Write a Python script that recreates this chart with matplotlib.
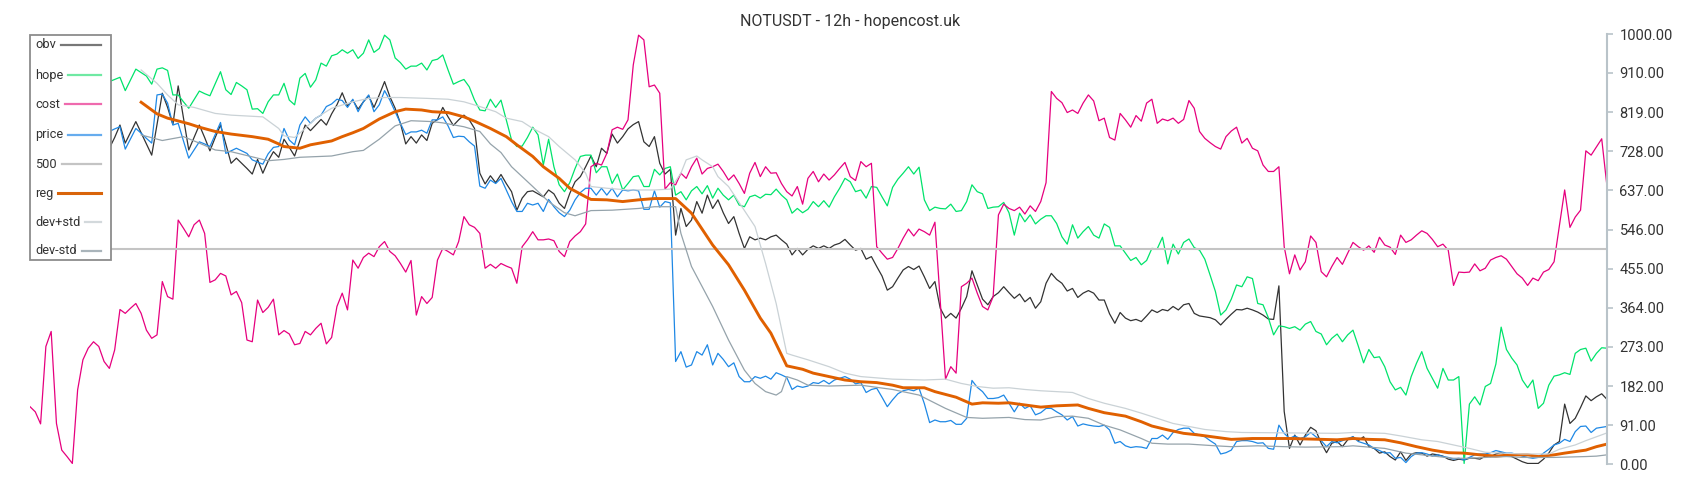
import matplotlib
matplotlib.use('Agg')
import matplotlib.pyplot as plt
import numpy as np
from matplotlib.patches import Rectangle
from matplotlib.lines import Line2D

plt.rcParams['font.family'] = ['Roboto', 'DejaVu Sans']

title = 'NOTUSDT - 12h - hopencost.uk'

# cost, one value per 12h candle (299 candles, scaled 0..1000)
cost = [134, 122, 94, 274, 309, 95, 33, 18, 2, 173,
        243, 270, 285, 274, 239, 223, 266, 360, 351, 363,
        374, 351, 312, 293, 301, 425, 390, 384, 568, 549,
        529, 557, 568, 537, 423, 429, 444, 438, 394, 402,
        376, 289, 285, 382, 353, 365, 384, 301, 311, 303,
        278, 281, 309, 301, 316, 328, 280, 295, 367, 398,
        359, 475, 456, 481, 491, 483, 506, 518, 495, 485,
        467, 447, 474, 347, 390, 374, 388, 475, 502, 495,
        487, 518, 576, 557, 551, 537, 456, 465, 456, 467,
        461, 456, 421, 506, 522, 541, 522, 522, 524, 520,
        495, 483, 518, 531, 541, 559, 692, 700, 696, 723,
        778, 784, 779, 801, 929, 998, 987, 878, 882, 863,
        640, 655, 650, 677, 665, 692, 712, 675, 688, 692,
        698, 681, 661, 673, 653, 630, 677, 702, 669, 692,
        677, 678, 653, 634, 624, 646, 605, 665, 681, 657,
        675, 661, 673, 688, 702, 669, 660, 704, 692, 700,
        506, 491, 477, 481, 502, 526, 547, 531, 547, 541,
        533, 563, 380, 198, 227, 212, 413, 421, 433, 398,
        367, 359, 390, 580, 605, 595, 590, 598, 582, 601,
        588, 611, 655, 867, 851, 841, 818, 824, 816, 840,
        859, 845, 799, 805, 760, 754, 816, 801, 784, 811,
        798, 840, 849, 793, 803, 799, 805, 793, 802, 846,
        828, 774, 758, 748, 739, 733, 762, 775, 784, 747,
        758, 735, 729, 696, 681, 681, 692, 506, 443, 487,
        452, 471, 531, 516, 448, 436, 460, 481, 465, 491,
        516, 506, 498, 508, 493, 528, 510, 505, 488, 533,
        516, 522, 533, 543, 537, 523, 506, 512, 498, 416,
        447, 446, 447, 466, 450, 456, 475, 481, 485, 477,
        460, 443, 433, 416, 433, 427, 447, 453, 471, 555,
        638, 551, 575, 591, 729, 719, 738, 757, 646]

# obv, hope and price from candle 15 on (the start sits under the legend)
start = 15
obv = [735, 760, 789, 747, 772, 797, 771, 745, 719, 790,
       863, 830, 790, 880, 805, 731, 760, 789, 760, 729,
       760, 789, 745, 700, 712, 700, 688, 675, 709, 677,
       705, 727, 714, 756, 737, 717, 753, 789, 776, 789,
       802, 789, 815, 836, 864, 833, 847, 826, 843, 857,
       830, 859, 890, 855, 828, 793, 745, 762, 747, 766,
       753, 793, 802, 830, 808, 788, 801, 812, 801, 781,
       677, 652, 671, 655, 674, 653, 634, 591, 619, 634,
       636, 629, 622, 638, 629, 607, 595, 630, 657, 669,
       692, 717, 692, 735, 723, 768, 747, 762, 780, 790,
       797, 750, 739, 762, 700, 675, 686, 533, 595, 553,
       568, 611, 584, 626, 595, 615, 585, 560, 576, 537,
       502, 529, 522, 526, 522, 529, 533, 522, 512, 487,
       502, 487, 500, 508, 502, 508, 502, 510, 514, 523,
       510, 498, 502, 477, 483, 460, 438, 405, 413, 433,
       452, 460, 453, 461, 436, 409, 425, 363, 340, 351,
       340, 363, 390, 450, 417, 384, 371, 390, 399, 413,
       399, 386, 396, 378, 388, 363, 378, 421, 444, 430,
       421, 403, 409, 388, 398, 404, 398, 382, 382, 350,
       328, 353, 340, 334, 337, 332, 345, 359, 353, 360,
       357, 367, 359, 371, 374, 351, 345, 343, 341, 336,
       324, 337, 349, 360, 359, 363, 359, 354, 347, 338,
       337, 415, 123, 37, 68, 45, 68, 86, 78, 49,
       27, 49, 53, 41, 57, 64, 55, 64, 41, 37,
       26, 29, 18, 10, 29, 9, 24, 27, 26, 19,
       24, 22, 19, 12, 9, 12, 10, 14, 14, 12,
       19, 18, 24, 27, 22, 18, 12, 6, 2, 2,
       2, 12, 26, 45, 53, 140, 95, 107, 132, 159,
       148, 157, 164, 151]

hope = [890, 895, 900, 869, 894, 919, 911, 903, 884, 919,
        922, 916, 859, 859, 843, 828, 848, 868, 862, 857,
        885, 913, 871, 860, 888, 880, 871, 826, 827, 816,
        843, 859, 859, 886, 847, 836, 898, 909, 877, 894,
        933, 926, 950, 954, 964, 956, 964, 944, 956, 987,
        958, 967, 998, 987, 945, 934, 919, 926, 926, 933,
        917, 939, 942, 952, 917, 884, 890, 895, 878, 847,
        824, 822, 849, 830, 847, 801, 754, 739, 740, 760,
        784, 766, 696, 756, 692, 650, 634, 655, 688, 716,
        719, 719, 678, 692, 692, 653, 675, 638, 653, 669,
        671, 646, 646, 686, 673, 688, 692, 626, 634, 615,
        636, 646, 629, 648, 619, 642, 626, 615, 626, 603,
        599, 622, 626, 619, 628, 627, 640, 626, 615, 584,
        595, 585, 593, 611, 599, 613, 598, 622, 642, 665,
        657, 634, 638, 619, 646, 644, 622, 601, 644, 663,
        677, 692, 675, 691, 615, 590, 598, 595, 594, 605,
        588, 590, 611, 650, 634, 629, 595, 598, 599, 609,
        585, 533, 584, 564, 580, 559, 570, 578, 578, 560,
        529, 512, 557, 526, 541, 553, 533, 526, 559, 551,
        508, 508, 491, 474, 481, 464, 474, 502, 501, 528,
        466, 512, 489, 516, 524, 504, 498, 477, 440, 402,
        347, 359, 384, 417, 413, 436, 432, 374, 371, 341,
        301, 322, 320, 316, 320, 312, 326, 332, 309, 303,
        278, 293, 303, 285, 301, 312, 275, 236, 267, 248,
        250, 227, 192, 173, 179, 161, 204, 235, 262, 223,
        200, 177, 223, 196, 196, 204, 2, 140, 157, 138,
        181, 188, 233, 319, 267, 247, 231, 196, 178, 196,
        130, 142, 184, 205, 208, 213, 209, 258, 267, 270,
        240, 258, 271, 270]

price = [774, 780, 785, 733, 757, 781, 770, 758, 747, 859,
         861, 840, 789, 793, 752, 712, 731, 750, 745, 739,
         767, 795, 723, 729, 735, 729, 723, 708, 703, 698,
         722, 737, 739, 781, 754, 743, 789, 808, 793, 805,
         812, 832, 838, 849, 846, 830, 849, 820, 843, 859,
         820, 836, 869, 847, 820, 793, 767, 773, 773, 777,
         770, 801, 801, 808, 787, 760, 763, 762, 750, 740,
         647, 642, 661, 653, 665, 638, 611, 588, 588, 607,
         603, 607, 588, 616, 599, 585, 576, 591, 615, 632,
         642, 642, 626, 642, 626, 642, 622, 638, 636, 638,
         636, 593, 593, 636, 598, 611, 608, 239, 262, 226,
         231, 262, 254, 278, 231, 258, 244, 227, 236, 204,
         192, 192, 204, 200, 205, 198, 213, 208, 202, 174,
         182, 179, 182, 190, 188, 195, 187, 196, 200, 204,
         198, 187, 190, 167, 174, 177, 156, 134, 150, 164,
         171, 174, 171, 177, 141, 97, 103, 99, 99, 102,
         93, 93, 107, 195, 179, 169, 153, 153, 155, 161,
         142, 122, 142, 130, 136, 115, 120, 130, 130, 122,
         115, 103, 111, 89, 94, 91, 89, 88, 91, 80,
         49, 53, 43, 39, 41, 40, 37, 60, 60, 68,
         58, 74, 81, 84, 84, 72, 68, 64, 55, 47,
         24, 27, 33, 53, 55, 55, 53, 49, 50, 37,
         35, 91, 72, 60, 66, 60, 64, 74, 64, 55,
         41, 53, 50, 55, 60, 64, 53, 49, 45, 37,
         32, 26, 27, 14, 16, 4, 18, 26, 27, 24,
         19, 22, 18, 16, 12, 14, 10, 16, 22, 24,
         24, 27, 32, 29, 26, 26, 23, 19, 16, 14,
         16, 26, 35, 45, 49, 58, 53, 76, 88, 89,
         74, 84, 86, 88]

threshold = 500

# smooth lines, read at fewer candles
reg_x = [21, 24, 26, 30, 32, 35, 38, 42, 45, 47,
         48, 51, 53, 57, 59, 61, 63, 66, 69, 71,
         74, 76, 79, 82, 84, 87, 90, 92, 95, 97,
         100, 102, 105, 106, 109, 112, 115, 118, 122, 125,
         129, 132, 135, 138, 140, 143, 146, 148, 151, 154,
         157, 160, 163, 165, 169, 171, 175, 178, 180, 183,
         185, 188, 191, 194, 198, 200, 203, 207, 210, 212,
         215, 218, 221, 224, 227, 231, 235, 238, 244, 247,
         250, 253, 256, 259, 262, 265, 268, 271, 274, 277,
         280, 283, 285, 288, 290, 294, 296, 298]
reg = [842, 815, 805, 792, 784, 774, 768, 762, 756, 745,
       739, 735, 743, 752, 762, 771, 781, 803, 820, 826,
       824, 820, 818, 808, 798, 781, 762, 743, 716, 692,
       665, 642, 622, 616, 615, 611, 615, 618, 618, 584,
       510, 464, 405, 340, 305, 229, 221, 212, 204, 196,
       192, 190, 184, 178, 178, 169, 156, 140, 143, 142,
       143, 138, 133, 136, 138, 130, 120, 112, 99, 89,
       80, 72, 68, 63, 58, 60, 60, 60, 58, 57,
       60, 58, 57, 50, 41, 33, 27, 26, 22, 19,
       22, 22, 18, 22, 26, 33, 41, 47]

dev_hi_x = [21, 24, 26, 28, 31, 35, 38, 44, 47, 48,
            50, 52, 54, 57, 61, 64, 67, 70, 75, 79,
            82, 85, 88, 90, 93, 95, 98, 100, 103, 105,
            106, 109, 113, 118, 121, 123, 124, 126, 127, 129,
            130, 132, 137, 139, 141, 143, 144, 147, 151, 154,
            157, 163, 169, 173, 176, 179, 182, 185, 188, 191,
            194, 197, 200, 203, 207, 210, 213, 216, 219, 222,
            226, 229, 238, 247, 250, 256, 259, 263, 266, 269,
            272, 275, 278, 282, 285, 287, 289, 292, 294, 296,
            298]
dev_hi = [917, 886, 859, 836, 830, 816, 812, 808, 781, 764,
          760, 781, 805, 828, 843, 851, 853, 853, 851, 849,
          843, 832, 820, 805, 797, 781, 762, 739, 708, 677,
          646, 642, 638, 638, 640, 677, 708, 717, 708, 692,
          669, 646, 553, 467, 374, 258, 254, 243, 227, 212,
          204, 198, 196, 198, 188, 181, 177, 178, 174, 171,
          169, 167, 153, 142, 130, 119, 107, 95, 88, 81,
          76, 74, 73, 72, 74, 72, 66, 57, 53, 45,
          37, 28, 26, 24, 24, 24, 35, 45, 55, 64,
          73]

dev_lo_x = [21, 25, 29, 32, 35, 38, 42, 45, 48, 51,
            57, 61, 63, 66, 69, 72, 76, 78, 82, 85,
            87, 89, 91, 95, 98, 101, 103, 106, 110, 115,
            118, 122, 123, 125, 129, 132, 135, 137, 139, 141,
            142, 143, 145, 147, 151, 157, 163, 168, 173, 177,
            180, 185, 188, 191, 194, 197, 200, 203, 206, 210,
            212, 215, 219, 224, 227, 232, 237, 241, 248, 250,
            256, 260, 263, 266, 269, 272, 275, 279, 282, 285,
            288, 294, 296, 298]
dev_lo = [766, 753, 762, 747, 731, 727, 715, 706, 709, 714,
          717, 727, 730, 756, 787, 799, 797, 794, 785, 774,
          745, 725, 692, 646, 611, 585, 578, 590, 591, 595,
          599, 599, 537, 460, 367, 289, 219, 188, 169, 161,
          169, 204, 196, 184, 182, 184, 174, 161, 130, 109,
          107, 109, 104, 103, 111, 112, 107, 91, 80, 60,
          49, 47, 47, 43, 41, 43, 41, 40, 41, 43,
          37, 26, 22, 18, 14, 14, 16, 18, 16, 16,
          16, 18, 19, 22]

tick_values = [0, 91, 182, 273, 364, 455, 546, 637, 728, 819, 910, 1000]

W, H = 1700, 500
fig = plt.figure(figsize=(W / 100, H / 100), dpi=100)
ax = fig.add_axes([30 / W, 1 - 464.3 / H, (1607 - 30) / W, (464.3 - 34.3) / H])

candles = np.arange(len(cost))
later = np.arange(start, start + len(obv))

ax.plot(later, obv, color='#333333', lw=0.9)
ax.plot(later, hope, color='#00e36b', lw=0.9)
ax.plot(candles, cost, color='#e6007e', lw=0.9)
ax.plot(later, price, color='#1e88e5', lw=0.9)
ax.axhline(threshold, color='#c4c4c4', lw=1.5)
ax.plot(reg_x, reg, color='#e06000', lw=2.1)
ax.plot(dev_hi_x, dev_hi, color='#cad2d6', lw=0.9)
ax.plot(dev_lo_x, dev_lo, color='#95a3ab', lw=0.9)

ax.set_xlim(0, len(cost) - 1)
ax.set_ylim(0, 1000)
ax.set_xticks([])

# only the right axis is shown
for side in ['left', 'top', 'bottom']:
    ax.spines[side].set_visible(False)
ax.spines['right'].set_color('#b9c3c9')
ax.spines['right'].set_linewidth(1.5)
ax.yaxis.tick_right()
ax.set_yticks(tick_values)
ax.set_yticklabels([f'{v:.2f}' for v in tick_values])
ax.tick_params(axis='y', length=4, width=1.2, color='#b9c3c9',
               labelcolor='#333333', labelsize=10.5, pad=5)

fig.text(0.5, 1 - 25.7 / H, title, ha='center', va='baseline',
         fontsize=11.5, color='#333333')

# legend box: label first, then a line that runs to the right edge
legend_rows = [('obv', '#777777', 1.6), ('hope', '#6fe9a3', 1.6),
               ('cost', '#ef6aae', 1.6), ('price', '#66acee', 1.6),
               ('500', '#c4c4c4', 1.6), ('reg', '#d9640a', 2.2),
               ('dev+std', '#d3d9dc', 1.6), ('dev-std', '#a9b4ba', 1.6)]
row_y = [44.5, 75, 104, 134.5, 164, 193, 222, 251]

fig.add_artist(Rectangle((30 / W, 1 - 259.5 / H), 81 / W, 224.5 / H,
                         transform=fig.transFigure, facecolor='white',
                         edgecolor='#8c8c8c', lw=1.3, zorder=5))
renderer = fig.canvas.get_renderer()
for (label, color, width), y in zip(legend_rows, row_y):
    t = fig.text(35 / W, 1 - y / H, label, ha='left', va='center',
                 fontsize=9.2, color='#333333', zorder=6)
    x_end_text = t.get_window_extent(renderer).x1
    fig.add_artist(Line2D([(x_end_text + 5) / W, 101 / W], [1 - y / H, 1 - y / H],
                          transform=fig.transFigure, color=color, lw=width, zorder=6))

fig.savefig('out.png', dpi=100)
